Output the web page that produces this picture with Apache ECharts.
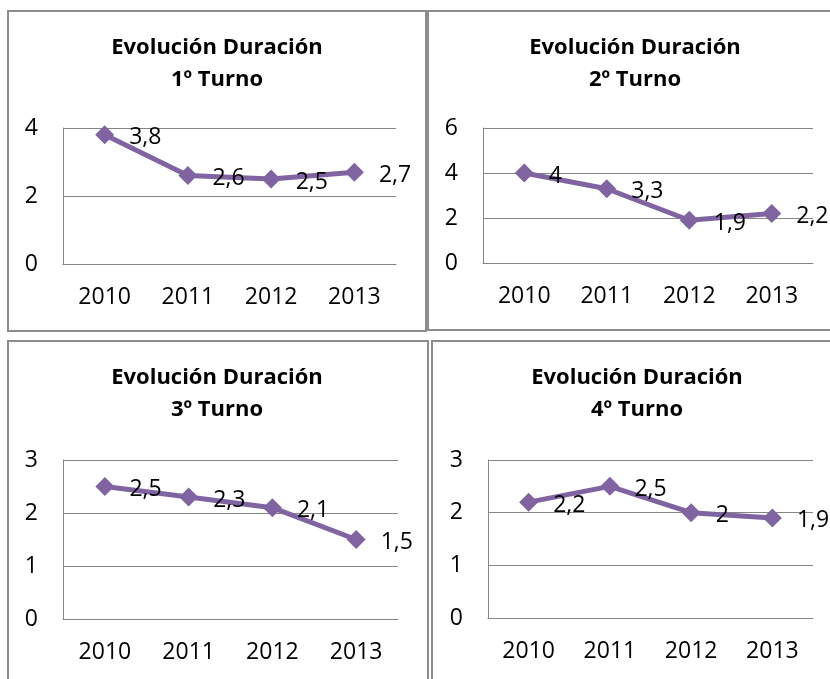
<!DOCTYPE html>
<html>
<head>
<meta charset="utf-8">
<script src="https://cdn.jsdelivr.net/npm/echarts@6/dist/echarts.min.js"></script>
<style>
html,body{margin:0;padding:0;background:#fff;}
#chart{width:830px;height:679px;}
</style>
</head>
<body>
<div id="chart"></div>
<script>
// ---- data ----
const years = ['2010', '2011', '2012', '2013'];
const titles = ['Evolución Duración\n1º Turno', 'Evolución Duración\n2º Turno', 'Evolución Duración\n3º Turno', 'Evolución Duración\n4º Turno'];
const turno1 = [3.8, 2.6, 2.5, 2.7];
const turno2 = [4, 3.3, 1.9, 2.2];
const turno3 = [2.5, 2.3, 2.1, 1.5];
const turno4 = [2.2, 2.5, 2, 1.9];
const yMax = [4, 6, 3, 3];
const yStep = [2, 2, 1, 1];

// ---- layout ----
const FONT = 'Open Sans';
const PURPLE = '#8064A2';
const GRAY = '#868686';
const grids = [
  {left: 63, top: 128, width: 333, height: 136},
  {left: 483, top: 128, width: 330, height: 135},
  {left: 63, top: 460, width: 335, height: 159},
  {left: 488, top: 460, width: 325, height: 158}
];
const titlePos = [[217, 32], [635, 32], [217, 362], [637, 362]];
const seriesData = [turno1, turno2, turno3, turno4];

const chart = echarts.init(document.getElementById('chart'), null, {renderer: 'canvas'});

const option = {
  backgroundColor: '#fff',
  animation: false,
  title: titles.map((t, i) => ({
    text: t,
    left: titlePos[i][0],
    top: titlePos[i][1],
    textAlign: 'center',
    padding: 0,
    textStyle: {fontFamily: FONT, fontWeight: 'bold', fontSize: 22, lineHeight: 32, color: '#000'}
  })),
  graphic: [
    {type: 'rect', shape: {x: 8, y: 11, width: 418, height: 320}, style: {fill: 'none', stroke: '#8c8c8c', lineWidth: 2}, silent: true},
    {type: 'rect', shape: {x: 428, y: 11, width: 420, height: 319}, style: {fill: 'none', stroke: '#8c8c8c', lineWidth: 2}, silent: true},
    {type: 'rect', shape: {x: 8, y: 341, width: 420, height: 360}, style: {fill: 'none', stroke: '#8c8c8c', lineWidth: 2}, silent: true},
    {type: 'rect', shape: {x: 432, y: 341, width: 420, height: 360}, style: {fill: 'none', stroke: '#8c8c8c', lineWidth: 2}, silent: true}
  ],
  grid: grids.map(g => Object.assign({containLabel: false}, g)),
  xAxis: grids.map((g, i) => ({
    type: 'category',
    gridIndex: i,
    data: years,
    boundaryGap: true,
    axisTick: {show: false},
    axisLine: {show: true, lineStyle: {color: GRAY, width: 1}},
    axisLabel: {fontFamily: FONT, fontSize: 23, color: '#000', margin: 22}
  })),
  yAxis: grids.map((g, i) => ({
    type: 'value',
    gridIndex: i,
    min: 0,
    max: yMax[i],
    interval: yStep[i],
    axisTick: {show: false},
    axisLine: {show: true, lineStyle: {color: GRAY, width: 1}},
    splitLine: {show: true, lineStyle: {color: GRAY, width: 1}},
    axisLabel: {fontFamily: FONT, fontSize: 23, color: '#000', margin: 25}
  })),
  series: seriesData.map((d, i) => ({
    type: 'line',
    xAxisIndex: i,
    yAxisIndex: i,
    data: d,
    symbol: 'diamond',
    symbolSize: 19,
    lineStyle: {color: PURPLE, width: 5},
    itemStyle: {color: PURPLE},
    label: {
      show: true,
      position: 'right',
      distance: 15,
      offset: [0, 3],
      fontFamily: FONT,
      fontSize: 23,
      color: '#000',
      formatter: p => String(p.value).replace('.', ',')
    }
  }))
};
chart.setOption(option);
</script>
</body>
</html>
